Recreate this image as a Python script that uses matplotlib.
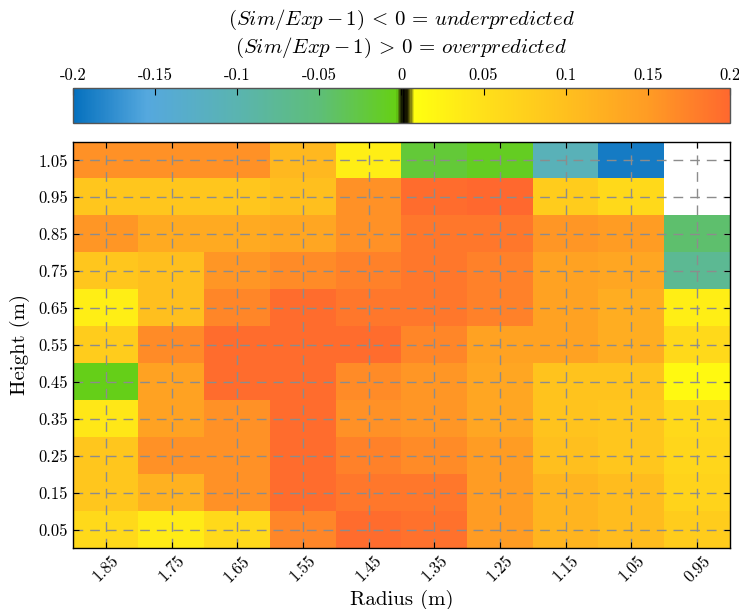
import matplotlib
matplotlib.use("Agg")
import matplotlib.pyplot as plt
import numpy as np
from matplotlib.colors import LinearSegmentedColormap

plt.rcParams['font.family'] = 'serif'
plt.rcParams['font.serif'] = ['cmr10']
plt.rcParams['mathtext.fontset'] = 'cm'
plt.rcParams['axes.unicode_minus'] = False

# radius columns (left to right) and height rows (bottom to top)
radius = ['1.85', '1.75', '1.65', '1.55', '1.45', '1.35', '1.25', '1.15', '1.05', '0.95']
height = ['0.05', '0.15', '0.25', '0.35', '0.45', '0.55', '0.65', '0.75', '0.85', '0.95', '1.05']

# Sim/Exp - 1, one list per height row, bottom row first
row_005 = [0.060, 0.035, 0.060, 0.170, 0.195, 0.190, 0.150, 0.115, 0.105, 0.080]
row_015 = [0.090, 0.120, 0.160, 0.195, 0.185, 0.185, 0.150, 0.115, 0.105, 0.070]
row_025 = [0.090, 0.160, 0.160, 0.195, 0.175, 0.165, 0.150, 0.100, 0.090, 0.065]
row_035 = [0.040, 0.140, 0.160, 0.195, 0.160, 0.155, 0.135, 0.095, 0.090, 0.060]
row_045 = [-0.005, 0.140, 0.195, 0.195, 0.165, 0.155, 0.135, 0.095, 0.095, 0.015]
row_055 = [0.080, 0.165, 0.195, 0.195, 0.195, 0.170, 0.140, 0.140, 0.125, 0.060]
row_065 = [0.030, 0.100, 0.170, 0.195, 0.185, 0.185, 0.175, 0.140, 0.125, 0.030]
row_075 = [0.090, 0.100, 0.155, 0.165, 0.175, 0.185, 0.175, 0.140, 0.135, -0.075]
row_085 = [0.155, 0.130, 0.130, 0.135, 0.160, 0.185, 0.185, 0.155, 0.150, -0.045]
row_095 = [0.090, 0.090, 0.090, 0.100, 0.160, 0.195, 0.200, 0.080, 0.060, np.nan]
row_105 = [0.160, 0.160, 0.160, 0.110, 0.030, -0.020, -0.010, -0.110, -0.190, np.nan]

err = np.array([row_005, row_015, row_025, row_035, row_045, row_055,
                row_065, row_075, row_085, row_095, row_105])

# diverging map with a black band at zero
nodes = [(0.0, '#0570be'), (0.1125, '#55a8de'), (0.25, '#5ab4b0'),
         (0.375, '#5ebe78'), (0.4925, '#66d014'), (0.4975, '#3a4a08'),
         (0.503, '#000000'), (0.509, '#202000'), (0.515, '#8a8a10'),
         (0.52, '#ffff10'), (0.625, '#ffe01a'), (0.75, '#ffc01e'),
         (0.875, '#ff9c24'), (1.0, '#ff682e')]
cmap = LinearSegmentedColormap.from_list('errmap', nodes, N=512)
cmap.set_bad('white')

fig = plt.figure(figsize=(7.39, 6.09), dpi=100)
ax = fig.add_axes([0.0988, 0.1002, 0.889, 0.6667])
cax = fig.add_axes([0.0988, 0.798, 0.889, 0.0575])

im = ax.imshow(np.ma.masked_invalid(err), cmap=cmap, vmin=-0.2, vmax=0.2,
               origin='lower', aspect='auto', interpolation='nearest')

ax.set_xticks(np.arange(len(radius)))
ax.set_xticklabels(radius, rotation=45, fontsize=12)
ax.set_yticks(np.arange(len(height)))
ax.set_yticklabels(height, fontsize=12)
ax.tick_params(direction='in', top=True, right=True, length=4, width=0.8)
ax.grid(True, color='#8c8c8c', linestyle=(0, (7, 5)), linewidth=1.0)
ax.set_xlabel('Radius (m)', fontsize=15)
ax.set_ylabel('Height (m)', fontsize=15, labelpad=6)
for s in ax.spines.values():
    s.set_linewidth(1.0)

cb = fig.colorbar(im, cax=cax, orientation='horizontal')
cb.set_ticks([-0.2, -0.15, -0.1, -0.05, 0, 0.05, 0.1, 0.15, 0.2])
cb.set_ticklabels(['-0.2', '-0.15', '-0.1', '-0.05', '0', '0.05', '0.1', '0.15', '0.2'])
cax.xaxis.set_ticks_position('top')
cax.tick_params(direction='in', length=5, width=0.8, labelsize=12)
cb.outline.set_linewidth(1.0)
cb.outline.set_edgecolor('#555555')

fig.text(0.543, 0.967, r'$(Sim/Exp-1)\,<\,0\,=\,underpredicted$', ha='center', va='center', fontsize=15)
fig.text(0.543, 0.922, r'$(Sim/Exp-1)\,>\,0\,=\,overpredicted$', ha='center', va='center', fontsize=15)

fig.savefig('out.png', dpi=100)
